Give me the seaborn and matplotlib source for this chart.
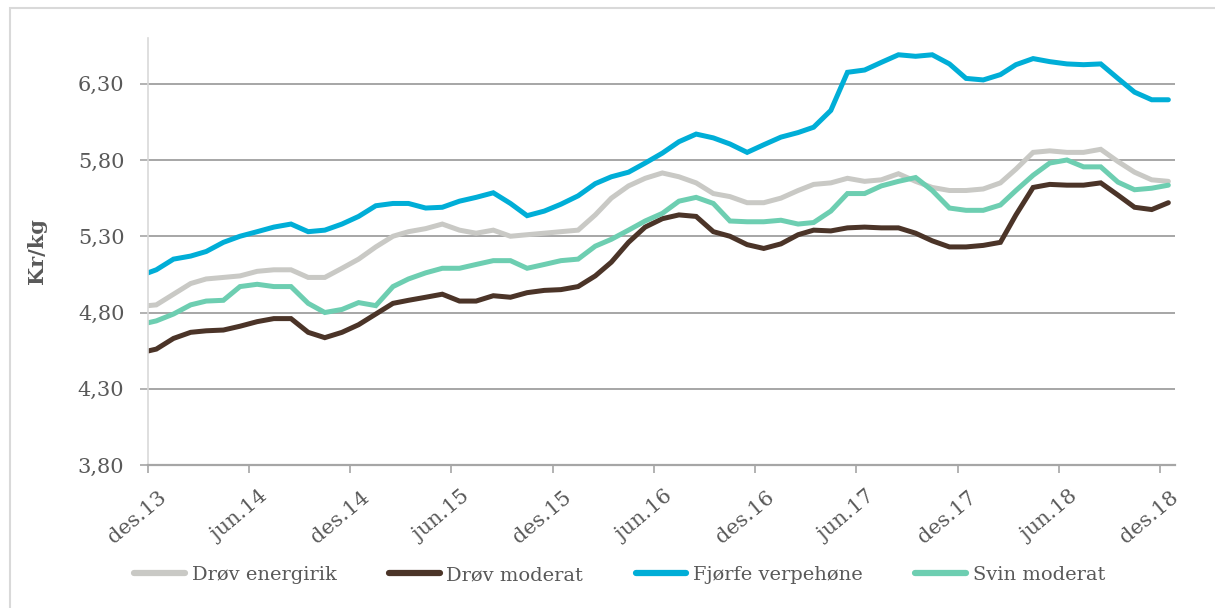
import pandas as pd
import matplotlib
matplotlib.use("Agg")
import matplotlib.pyplot as plt
import matplotlib.transforms as mtransforms
from matplotlib.patches import Rectangle
import seaborn as sns

# monthly prices (kr/kg), first value is nov.13 (clipped at the axis start)
dates = pd.date_range("2013-11-01", "2018-12-01", freq="MS") + pd.Timedelta(days=15)

drov_energirik = [
    4.84, 4.85, 4.92, 4.99, 5.02, 5.03, 5.04, 5.07, 5.08, 5.08, 5.03, 5.03, 5.09,
    5.15, 5.23, 5.30, 5.33, 5.35, 5.38, 5.34, 5.32, 5.34, 5.30, 5.31, 5.32, 5.33,
    5.34, 5.44, 5.55, 5.63, 5.68, 5.715, 5.69, 5.65, 5.58, 5.56, 5.52, 5.52, 5.55,
    5.60, 5.64, 5.65, 5.68, 5.66, 5.67, 5.71, 5.66, 5.62, 5.60, 5.60, 5.61, 5.65,
    5.74, 5.85, 5.86, 5.85, 5.85, 5.87, 5.79, 5.72, 5.67, 5.66,
]
drov_moderat = [
    4.535, 4.56, 4.63, 4.67, 4.68, 4.685, 4.71, 4.74, 4.76, 4.76, 4.67, 4.635, 4.67,
    4.72, 4.79, 4.86, 4.88, 4.90, 4.92, 4.875, 4.875, 4.91, 4.90, 4.93, 4.945, 4.95,
    4.97, 5.04, 5.13, 5.26, 5.36, 5.415, 5.44, 5.43, 5.33, 5.30, 5.245, 5.22, 5.25,
    5.31, 5.34, 5.335, 5.355, 5.36, 5.355, 5.355, 5.32, 5.27, 5.23, 5.23, 5.24,
    5.26, 5.44, 5.62, 5.64, 5.635, 5.635, 5.65, 5.57, 5.49, 5.475, 5.52,
]
fjorfe_verpehone = [
    5.04, 5.08, 5.15, 5.17, 5.20, 5.26, 5.30, 5.33, 5.36, 5.38, 5.33, 5.34, 5.38,
    5.43, 5.50, 5.515, 5.515, 5.485, 5.49, 5.53, 5.555, 5.585, 5.515, 5.435, 5.465,
    5.51, 5.565, 5.645, 5.69, 5.72, 5.78, 5.845, 5.92, 5.97, 5.945, 5.905, 5.85,
    5.90, 5.95, 5.98, 6.015, 6.125, 6.375, 6.39, 6.44, 6.49, 6.48, 6.49, 6.43,
    6.335, 6.325, 6.36, 6.425, 6.465, 6.445, 6.43, 6.425, 6.43, 6.335, 6.245, 6.195,
    6.195,
]
svin_moderat = [
    4.72, 4.745, 4.79, 4.85, 4.875, 4.88, 4.97, 4.985, 4.97, 4.97, 4.86, 4.80, 4.82,
    4.865, 4.845, 4.97, 5.02, 5.06, 5.09, 5.09, 5.115, 5.14, 5.14, 5.09, 5.115, 5.14,
    5.15, 5.235, 5.28, 5.34, 5.40, 5.45, 5.53, 5.555, 5.515, 5.40, 5.395, 5.395,
    5.405, 5.38, 5.39, 5.465, 5.58, 5.58, 5.63, 5.66, 5.685, 5.60, 5.485, 5.47,
    5.47, 5.505, 5.60, 5.70, 5.78, 5.80, 5.755, 5.755, 5.655, 5.605, 5.615, 5.635,
]

series_names = ["Drøv energirik", "Drøv moderat", "Fjørfe verpehøne", "Svin moderat"]
colors = ["#C9C9C5", "#4B3428", "#00AED7", "#6DCEB1"]

tick_dates = pd.date_range("2013-12-01", "2018-12-01", freq="6MS")
tick_labels = ["des.13", "jun.14", "des.14", "jun.15", "des.15", "jun.16",
               "des.16", "jun.17", "des.17", "jun.18", "des.18"]
y_ticks = [3.80, 4.30, 4.80, 5.30, 5.80, 6.30]

df = pd.DataFrame({
    "dato": list(dates) * 4,
    "pris": drov_energirik + drov_moderat + fjorfe_verpehone + svin_moderat,
    "serie": sum([[n] * len(dates) for n in series_names], []),
})

sns.set_style("white")
plt.rcParams["font.family"] = ["DejaVu Serif", "DejaVu Sans"]

fig = plt.figure(figsize=(12.15, 6.08), dpi=100)
ax = fig.add_axes([148 / 1215, 1 - 465 / 608, 1027 / 1215, 427 / 608])

# chart area border
fig.patches.append(Rectangle((10 / 1215, -0.1), 1.2, 1 - 8 / 608 + 0.1,
                             transform=fig.transFigure, fill=False,
                             edgecolor="#D9D9D9", linewidth=1.5))

sns.lineplot(data=df, x="dato", y="pris", hue="serie", palette=colors,
             hue_order=series_names, linewidth=3.6, ax=ax, legend=False,
             solid_joinstyle="miter", solid_capstyle="round")

ax.set_xlim(pd.Timestamp("2013-12-01"), pd.Timestamp("2018-12-28"))
ax.set_ylim(3.80, 6.60)

ax.grid(axis="y", color="#A6A6A6", linewidth=1.4)
ax.grid(axis="x", visible=False)
ax.set_axisbelow(True)

for side in ["top", "right"]:
    ax.spines[side].set_visible(False)
ax.spines["left"].set_color("#D9D9D9")
ax.spines["left"].set_linewidth(1.2)
ax.spines["bottom"].set_color("#A6A6A6")
ax.spines["bottom"].set_linewidth(1.6)

ax.tick_params(axis="y", which="major", left=True, length=6, width=1.2,
               color="#A6A6A6", pad=11, labelsize=15, labelcolor="#595959")
ax.tick_params(axis="x", which="major", bottom=True, length=6, width=1.2,
               color="#A6A6A6", pad=10, labelsize=15, labelcolor="#595959")

ax.set_yticks(y_ticks)
ax.set_yticklabels([f"{v:.2f}".replace(".", ",") for v in y_ticks])
ax.set_xticks(tick_dates)
ax.set_xticklabels(tick_labels, rotation=40, ha="right", rotation_mode="anchor")

# nudge the slanted date labels to the right like the original
shift = mtransforms.ScaledTranslation(10 / 100, 0, fig.dpi_scale_trans)
for lbl in ax.get_xticklabels():
    lbl.set_transform(lbl.get_transform() + shift)

ax.set_xlabel("")
ax.set_ylabel("Kr/kg", fontsize=15, fontweight="bold", color="#595959")
ax.yaxis.set_label_coords(-0.098, 0.5)

handles = [plt.Line2D([], [], color=c, linewidth=4.5) for c in colors]
fig.legend(handles, series_names, loc="center", bbox_to_anchor=(0.51, 0.054),
           ncol=4, frameon=False, fontsize=14, handlelength=2.6,
           handletextpad=0.35, columnspacing=2.7, labelcolor="#595959")

fig.savefig("out.png", dpi=100)
